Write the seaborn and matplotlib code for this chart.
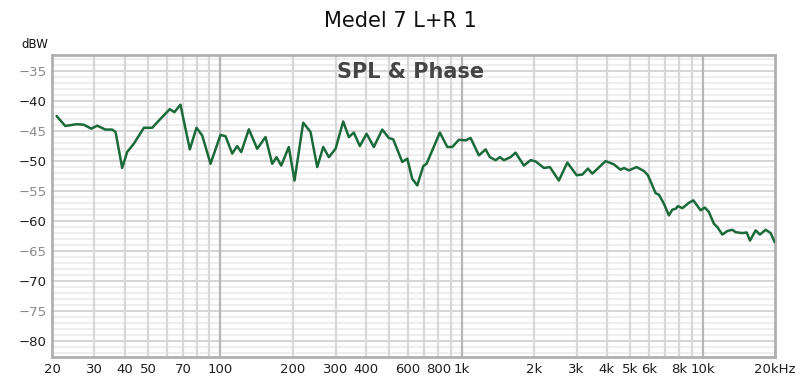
import numpy as np
import pandas as pd
import matplotlib
matplotlib.use("Agg")
import matplotlib.pyplot as plt
from matplotlib.ticker import FixedLocator, NullLocator
import seaborn as sns

# frequency response (Hz, dBW)
freq_hz = [20.9, 22.7, 25.4, 27.1, 29.1, 30.8, 33.3, 35.5, 36.7, 39.1,
           41.0, 43.7, 48.1, 52.1, 56.4, 61.6, 64.4, 68.2, 74.6, 79.5,
           84.0, 90.9, 100, 104.9, 111.8, 117.3, 121.9, 131.1, 142.0, 153.7,
           163.9, 170.8, 178.6, 192.0, 202.8, 220.3, 236.3, 251.9, 266.8, 281.5,
           300.1, 322.9, 340.7, 357.3, 378.4, 403.6, 432.6, 468.8, 499.1, 520.8,
           567.5, 595.3, 624.4, 655.0, 693.6, 715.8, 812.8, 872.3, 915.0, 974.6,
           1039, 1090, 1180, 1258, 1311, 1384, 1442, 1498, 1597, 1675,
           1814, 1934, 2028, 2196, 2325, 2533, 2746, 3001, 3169, 3343,
           3486, 3958, 4285, 4568, 4714, 4945, 5322, 5706, 5929, 6383,
           6588, 6908, 7247, 7487, 7727, 7898, 8238, 8773, 9150, 9810,
           10220, 10620, 11140, 11510, 12070, 12660, 13280, 13710, 14610, 15230,
           15720, 16590, 17290, 18250, 19150, 19900]
spl_dbw = [-42.45, -44.1, -43.8, -43.9, -44.55, -44.05, -44.7, -44.7, -45.1, -51.1,
           -48.45, -47.05, -44.4, -44.4, -42.9, -41.3, -41.8, -40.55, -48.0, -44.4,
           -45.7, -50.4, -45.6, -45.8, -48.7, -47.45, -48.45, -44.65, -47.9, -45.95,
           -50.4, -49.3, -50.7, -47.6, -53.2, -43.55, -45.1, -50.95, -47.6, -49.3,
           -47.9, -43.35, -45.95, -45.2, -47.45, -45.4, -47.6, -44.7, -46.1, -46.35,
           -50.1, -49.55, -52.9, -54.0, -50.8, -50.4, -45.2, -47.6, -47.6, -46.4,
           -46.5, -46.1, -49.0, -48.0, -49.3, -49.8, -49.3, -49.8, -49.3, -48.55,
           -50.7, -49.8, -50.0, -51.1, -50.95, -53.2, -50.2, -52.3, -52.2, -51.2,
           -52.05, -49.95, -50.5, -51.4, -51.1, -51.5, -50.95, -51.6, -52.3, -55.3,
           -55.55, -57.05, -59.0, -58.05, -57.9, -57.45, -57.8, -56.9, -56.5, -58.15,
           -57.7, -58.45, -60.4, -60.95, -62.2, -61.6, -61.4, -61.8, -61.95, -61.85,
           -63.2, -61.5, -62.2, -61.4, -61.95, -63.45]

x_ticks = [20, 30, 40, 50, 70, 100, 200, 300, 400, 600, 800,
           1000, 2000, 3000, 4000, 5000, 6000, 8000, 10000, 20000]
x_labels = ["20", "30", "40", "50", "70", "100", "200", "300", "400", "600", "800",
            "1k", "2k", "3k", "4k", "5k", "6k", "8k", "10k", "20kHz"]
y_ticks = [-35, -40, -45, -50, -55, -60, -65, -70, -75, -80]

df = pd.DataFrame({"Frequency": freq_hz, "SPL": spl_dbw})

sns.set_theme(style="white")
plt.rcParams["font.family"] = ["DejaVu Sans"]

fig = plt.figure(figsize=(8, 3.81), dpi=100)
ax = fig.add_axes([0.065, 0.063, 0.904, 0.793])

# grid: 1 dB minor lines, 5 dB major lines
for v in np.arange(-82, -32, 1):
    ax.axhline(v, color="#d6d6d6" if v % 5 == 0 else "#eeeeee",
               lw=1.5, zorder=0)
for dec in [10, 100, 1000, 10000]:
    for m in range(1, 10):
        f = dec * m
        if 20 < f < 20000:
            ax.axvline(f, color="#b6b6b6" if m == 1 else "#d8d8d8",
                       lw=1.6, zorder=0)

sns.lineplot(data=df, x="Frequency", y="SPL", ax=ax, color="#1a6a3a",
             lw=1.8, sort=False, zorder=3)

ax.set_xscale("log")
ax.set_xlim(20, 20000)
ax.set_ylim(-82.6, -32.25)
ax.xaxis.set_major_locator(FixedLocator(x_ticks))
ax.xaxis.set_minor_locator(NullLocator())
ax.set_xticklabels(x_labels)
ax.set_yticks(y_ticks)
ax.set_yticklabels([str(v).replace("-", "\u2212") for v in y_ticks])
for lbl, v in zip(ax.get_yticklabels(), y_ticks):
    lbl.set_color("#1e1e1e" if v % 10 == 0 else "#8a8a8a")
ax.tick_params(axis="both", length=0, labelsize=9.5, pad=4)
ax.tick_params(axis="x", colors="#1e1e1e")
ax.set_xlabel("")
ax.set_ylabel("")

for s in ax.spines.values():
    s.set_color("#b0b0b0")
    s.set_linewidth(2)

ax.text(0.496, 0.944, "SPL & Phase", transform=ax.transAxes, ha="center",
        va="center", fontsize=15, fontweight="bold", color="#454545", zorder=4)
fig.text(0.5, 0.945, "Medel 7 L+R 1", ha="center", va="center", fontsize=15,
         color="#111111")
fig.text(0.044, 0.882, "dBW", ha="center", va="center", fontsize=8.5,
         color="#111111")

fig.savefig("out.png", dpi=100)
